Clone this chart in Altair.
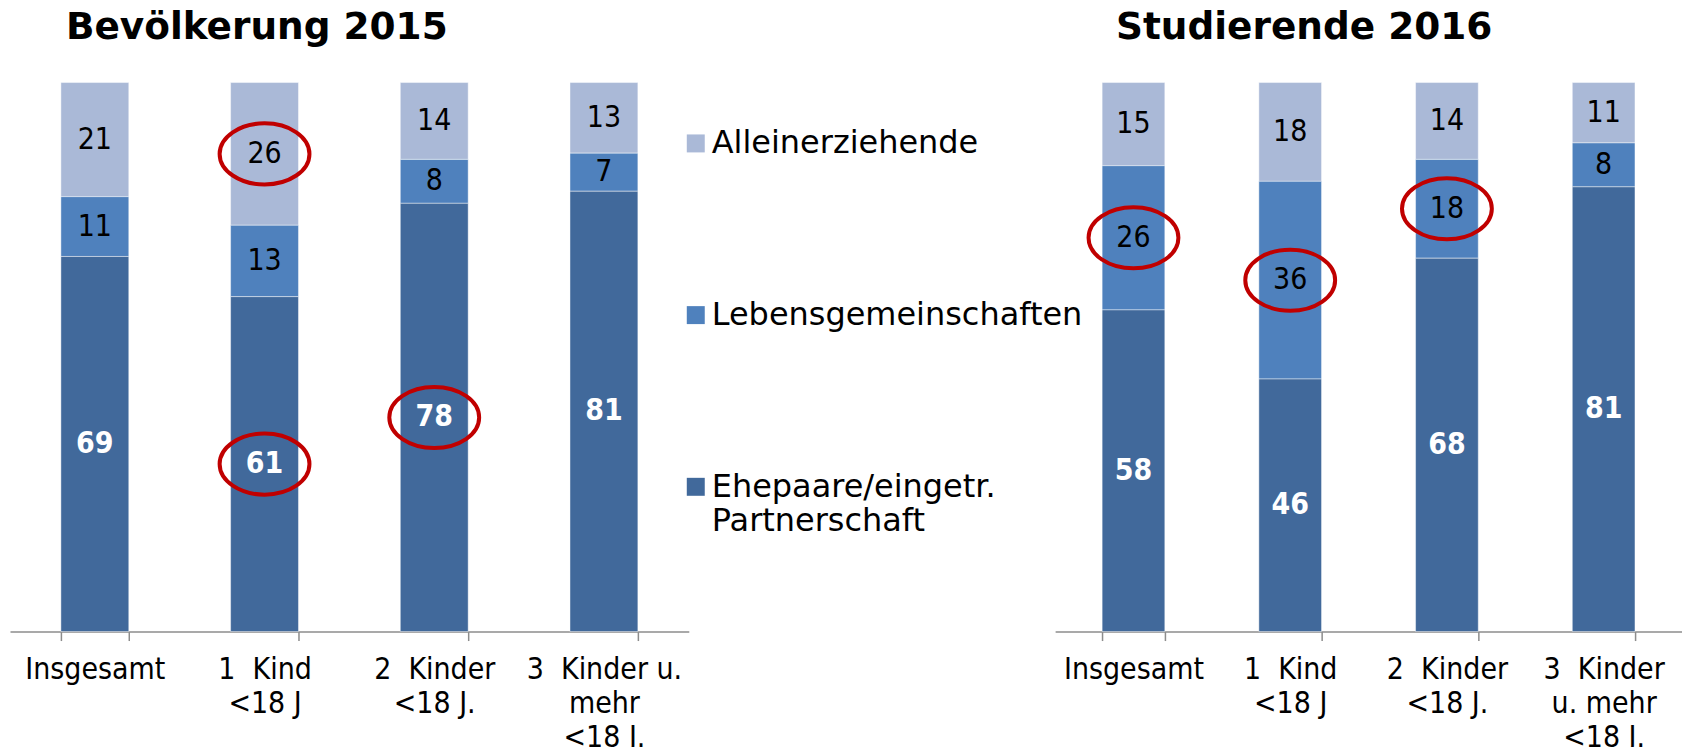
import altair as alt
import pandas as pd

# ---------------- data ----------------
serien = ["Alleinerziehende", "Lebensgemeinschaften", "Ehepaare/eingetr. Partnerschaft"]
farben = ["#AAB9D7", "#4F81BD", "#41699B"]
stapel_rang = [2, 1, 0]  # Ehepaare unten

kat_bev = ["Insgesamt", "1\u00a0\u00a0Kind|<18 J", "2\u00a0\u00a0Kinder|<18 J.", "3\u00a0\u00a0Kinder u.|mehr|<18 J."]
ehe_bev = [69, 61, 78, 81]
leb_bev = [11, 13, 8, 7]
all_bev = [21, 26, 14, 13]
markiert_bev = [(1, "Alleinerziehende"), (1, "Ehepaare/eingetr. Partnerschaft"), (2, "Ehepaare/eingetr. Partnerschaft")]

kat_stud = ["Insgesamt", "1\u00a0\u00a0Kind|<18 J", "2\u00a0\u00a0Kinder|<18 J.", "3\u00a0\u00a0Kinder|u. mehr|<18 J."]
ehe_stud = [58, 46, 68, 81]
leb_stud = [26, 36, 18, 8]
all_stud = [15, 18, 14, 11]
markiert_stud = [(0, "Lebensgemeinschaften"), (1, "Lebensgemeinschaften"), (2, "Lebensgemeinschaften")]

titel_bev = "Bevölkerung 2015"
titel_stud = "Studierende 2016"

ELLIPSE = ("M 1 0 C 1 0.3756 0.5523 0.68 0 0.68 C -0.5523 0.68 -1 0.3756 -1 0 "
           "C -1 -0.3756 -0.5523 -0.68 0 -0.68 C 0.5523 -0.68 1 -0.3756 1 0 Z")

LABEL_FONT = "DejaVu Sans Condensed, DejaVu Sans"


def make_df(kats, alle, leb, ehe, markiert):
    rows = []
    for i, k in enumerate(kats):
        for s, r, werte in zip(serien, stapel_rang, [alle, leb, ehe]):
            rows.append({"kategorie": k, "serie": s, "rang": r, "wert": werte[i],
                         "markiert": (i, s) in markiert})
    return pd.DataFrame(rows)


def panel(df, kats, width, titel, dx):
    base = alt.Chart(df).transform_stack(
        as_=["y0", "y1"], stack="wert", groupby=["kategorie"],
        offset="normalize", sort=[alt.SortField("rang", order="ascending")]
    ).transform_calculate(ym="(datum.y0 + datum.y1) / 2")

    x = alt.X("kategorie:N", sort=kats,
              scale=alt.Scale(paddingInner=0.6, paddingOuter=0.3),
              axis=alt.Axis(title=None, labelExpr="split(datum.label, '|')",
                            labelAngle=0, labelFont=LABEL_FONT, labelFontSize=30,
                            labelColor="black", labelPadding=14, labelLineHeight=34,
                            labelLimit=400, labelOverlap=False,
                            domainColor="#8C8C8C", domainWidth=1.5,
                            tickColor="#8C8C8C", tickWidth=1.5, tickSize=9,
                            tickBand="extent", grid=False))
    yscale = alt.Scale(domain=[0, 1])

    bars = base.mark_bar(stroke="#FFFFFF", strokeWidth=1, strokeOpacity=0.45).encode(
        x=x,
        y=alt.Y("y0:Q", scale=yscale, axis=None),
        y2="y1:Q",
        color=alt.Color("serie:N", scale=alt.Scale(domain=serien, range=farben),
                        legend=alt.Legend(
                            title=None, orient="none", legendX=671, legendY=45,
                            direction="vertical", symbolType="square", symbolSize=324,
                            symbolStrokeWidth=0, labelFont="DejaVu Sans", labelFontSize=32,
                            labelColor="black", labelOffset=0, labelLimit=600,
                            rowPadding=140, labelBaseline="middle",
                            labelExpr="datum.label == 'Ehepaare/eingetr. Partnerschaft' ? ['Ehepaare/eingetr.', 'Partnerschaft'] : datum.label")),
    )

    txt_ehe = base.transform_filter(alt.datum.serie == serien[2]).mark_text(
        font=LABEL_FONT, fontSize=30, fontWeight="bold", color="white"
    ).encode(x=x, y=alt.Y("ym:Q", scale=yscale, axis=None), text="wert:Q")

    txt_rest = base.transform_filter(alt.datum.serie != serien[2]).mark_text(
        font=LABEL_FONT, fontSize=30, color="black"
    ).encode(x=x, y=alt.Y("ym:Q", scale=yscale, axis=None), text="wert:Q")

    kreise = base.transform_filter(alt.datum.markiert).mark_point(
        shape=ELLIPSE, size=8100, filled=False, stroke="#C00000", strokeWidth=4, opacity=1
    ).encode(x=x, y=alt.Y("ym:Q", scale=yscale, axis=None))

    return alt.layer(bars, txt_ehe, txt_rest, kreise).properties(
        width=width, height=550,
        title=alt.TitleParams(titel, anchor="start", dx=dx, fontSize=37.5, font="DejaVu Sans",
                              fontWeight="bold", color="black", offset=36),
    )


df_bev = make_df(kat_bev, all_bev, leb_bev, ehe_bev, markiert_bev)
df_stud = make_df(kat_stud, all_stud, leb_stud, ehe_stud, markiert_stud)

chart = alt.hconcat(
    panel(df_bev, kat_bev, 680, titel_bev, 56),
    panel(df_stud, kat_stud, 628, titel_stud, 61),
    spacing=367, bounds="flush",
).properties(
    padding={"left": 2, "top": 0, "right": 0, "bottom": 0},
    background="white",
).configure_view(stroke=None)

chart.save("out.html", embed_options={"renderer": "svg", "actions": False})
